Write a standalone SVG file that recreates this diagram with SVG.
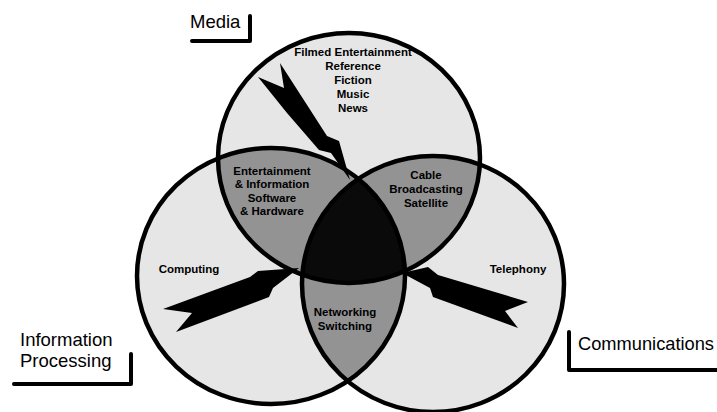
<svg xmlns="http://www.w3.org/2000/svg" width="717" height="412" viewBox="0 0 717 412">
  <style>
    .disc { fill: #e6e6e6; }
    .lens { fill: #939393; }
    .core { fill: #0a0a0a; }
    .rim { fill: none; stroke: #000; stroke-width: 4.5; }
    .in { font-family: "Liberation Sans", Arial, sans-serif; font-weight: bold; font-size: 11.5px; fill: #000; text-anchor: middle; }
    .tag { font-family: "Liberation Sans", Arial, sans-serif; font-size: 18.5px; fill: #000; }
    .bracket { fill: none; stroke: #000; stroke-width: 4; stroke-linecap: round; stroke-linejoin: round; }
    .bolt { fill: #000; }
  </style>
  <defs>
    <clipPath id="clipMedia"><ellipse cx="349" cy="158" rx="131" ry="125"/></clipPath>
    <clipPath id="clipComputing"><ellipse cx="271" cy="276" rx="134" ry="128"/></clipPath>
  </defs>

  <rect width="717" height="412" fill="#fff"/>

  <!-- circle bodies -->
  <g id="media">
    <ellipse class="disc" cx="349" cy="158" rx="131" ry="125"/>
  </g>
  <g id="computing">
    <ellipse class="disc" cx="271" cy="276" rx="134" ry="128"/>
  </g>
  <g id="communications">
    <ellipse class="disc" cx="433" cy="284" rx="131" ry="128"/>
  </g>

  <!-- pairwise overlaps -->
  <g id="media-computing">
    <g clip-path="url(#clipMedia)"><ellipse class="lens" cx="271" cy="276" rx="134" ry="128"/></g>
  </g>
  <g id="media-communications">
    <g clip-path="url(#clipMedia)"><ellipse class="lens" cx="433" cy="284" rx="131" ry="128"/></g>
  </g>
  <g id="computing-communications">
    <g clip-path="url(#clipComputing)"><ellipse class="lens" cx="433" cy="284" rx="131" ry="128"/></g>
  </g>

  <!-- triple overlap -->
  <g id="convergence">
    <g clip-path="url(#clipMedia)"><g clip-path="url(#clipComputing)">
      <ellipse class="core" cx="433" cy="284" rx="131" ry="128"/>
    </g></g>
  </g>

  <!-- outlines -->
  <g id="rims">
    <ellipse class="rim" cx="349" cy="158" rx="131" ry="125"/>
    <ellipse class="rim" cx="271" cy="276" rx="134" ry="128"/>
    <ellipse class="rim" cx="433" cy="284" rx="131" ry="128"/>
  </g>

  <!-- lightning arrows into the centre -->
  <g id="connectors">
    <polygon class="bolt" points="280,63 309,108 327,136 339,141 350,180 331,153 319,150 287,113 258,77 284,88"/>
    <polygon class="bolt" points="163,309 250,277 258,271 299,268 273,288 269,297 176,332 192,313"/>
    <polygon class="bolt" points="402,273 428,267 438,275 528,302 505,311 518,328 433,297 430,288"/>
  </g>

  <!-- texts inside the circles -->
  <g id="media-items">
    <text class="in" x="353" y="56">Filmed Entertainment</text>
    <text class="in" x="353" y="70">Reference</text>
    <text class="in" x="353" y="84">Fiction</text>
    <text class="in" x="353" y="98">Music</text>
    <text class="in" x="353" y="112">News</text>
  </g>
  <g id="media-computing-items">
    <text class="in" x="272" y="175">Entertainment</text>
    <text class="in" x="272" y="188">&amp; Information</text>
    <text class="in" x="272" y="202">Software</text>
    <text class="in" x="272" y="215">&amp; Hardware</text>
  </g>
  <g id="media-communications-items">
    <text class="in" x="426" y="179">Cable</text>
    <text class="in" x="426" y="193">Broadcasting</text>
    <text class="in" x="426" y="207">Satellite</text>
  </g>
  <g id="computing-communications-items">
    <text class="in" x="345" y="316">Networking</text>
    <text class="in" x="345" y="330">Switching</text>
  </g>
  <g id="computing-item">
    <text class="in" x="189" y="273">Computing</text>
  </g>
  <g id="communications-item">
    <text class="in" x="518" y="273">Telephony</text>
  </g>

  <!-- corner labels -->
  <g id="label-media">
    <text class="tag" x="190" y="28">Media</text>
    <polyline class="bracket" points="192,41 250,41 250,16"/>
  </g>
  <g id="label-information-processing">
    <text class="tag" x="20" y="346">Information</text>
    <text class="tag" x="20" y="367">Processing</text>
    <polyline class="bracket" points="14,384 131,384 131,354"/>
  </g>
  <g id="label-communications">
    <text class="tag" x="578" y="350" textLength="136" lengthAdjust="spacingAndGlyphs">Communications</text>
    <polyline class="bracket" points="569,332 569,370 717,370"/>
  </g>
</svg>
